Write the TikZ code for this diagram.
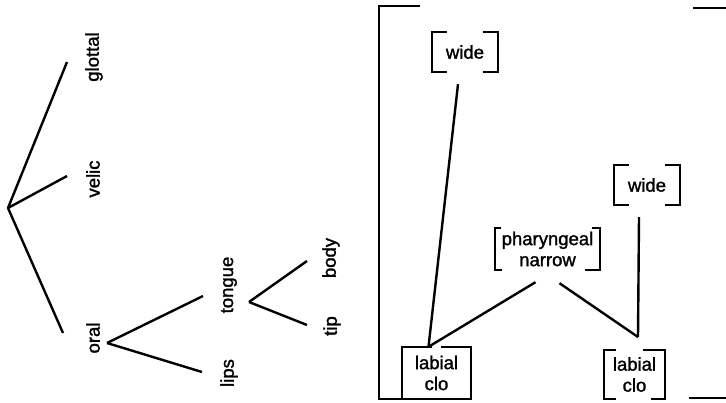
\documentclass[tikz,border=0pt]{standalone}
\usepackage{fontspec}
\setmainfont[FakeBold=1.5]{Liberation Sans}
\usetikzlibrary{calc}
\tikzset{
  edge/.style={line width=2.4pt},
  brk/.style={line width=2.1pt},
  lbl/.style={font=\fontsize{18.5}{21}\selectfont, inner sep=0pt, rotate=90},
  featbox/.style={font=\fontsize{18.5}{21}\selectfont, inner sep=0pt, align=center},
}
\newcommand{\brackets}[5]{%
  \draw[brk] ($(#1.north west)+(#2,0)$) -- (#1.north west) -- (#1.south west) -- ($(#1.south west)+(#4,0)$);
  \draw[brk] ($(#1.north east)-(#3,0)$) -- (#1.north east) -- (#1.south east) -- ($(#1.south east)-(#5,0)$);
}
\begin{document}
\begin{tikzpicture}[x=1pt,y=-1pt]
\useasboundingbox (0,0) rectangle (726,402);
% left tree
\coordinate (r1) at (8,208);
\node[lbl] (glottal) at (94,57) {glottal};
\node[lbl] (velic) at (93,179) {velic};
\node[lbl] (oral) at (93,338) {oral};
\coordinate (eg) at (67,62);
\coordinate (ev) at (67,176);
\coordinate (eo) at (63,333);
\draw[edge] (r1) -- (eg);
\draw[edge] (r1) -- (ev);
\draw[edge] (r1) -- (eo);
% oral subtree
\coordinate (r2) at (107,343);
\node[lbl] (tongue) at (229,285) {tongue};
\node[lbl] (lips) at (229,373) {lips};
\coordinate (et) at (203,296);
\coordinate (el) at (202,372);
\draw[edge] (r2) -- (et);
\draw[edge] (r2) -- (el);
% tongue subtree
\coordinate (r3) at (249,302);
\node[lbl] (body) at (331,258) {body};
\node[lbl] (tip) at (332,326) {tip};
\coordinate (eb) at (307,261);
\coordinate (etp) at (307,325);
\draw[edge] (r3) -- (eb);
\draw[edge] (r3) -- (etp);
% big bracket
\draw[brk] (420,6) -- (379,6) -- (379,399) -- (471,399);
\draw[brk] (693,8) -- (726,8);
\draw[brk] (689,398) -- (726,398);
% feature boxes
\node[featbox, minimum width=66pt, minimum height=40pt] (wideA) at (465,52) {wide};
\brackets{wideA}{15}{15}{15}{15}
\node[featbox, minimum width=66pt, minimum height=40pt] (wideB) at (647,185) {wide};
\brackets{wideB}{15}{15}{15}{15}
\node[featbox, minimum width=105pt, minimum height=42pt] (phar) at (547.5,249) {pharyngeal\\narrow};
\brackets{phar}{6}{8}{7}{15}
\node[featbox, minimum width=69pt, minimum height=52pt] (lab1) at (436.5,373) {labial\\clo};
\brackets{lab1}{30}{30}{8}{8}
\node[featbox, minimum width=61pt, minimum height=49pt] (lab2) at (634.5,374.5) {labial\\clo};
\brackets{lab2}{12}{22}{12}{14}
% connectors
\coordinate (j1) at ($(lab1.north)+(-8,0)$);
\coordinate (j2) at (638,337);
\draw[edge] ($(wideA.south)+(-7,12)$) -- (j1);
\draw[edge] ($(phar.south)+(-12,12)$) -- (j1);
\draw[edge] ($(phar.south)+(12,13)$) -- (j2);
\draw[edge] ($(wideB.south)+(-8,12)$) -- (j2);
\end{tikzpicture}
\end{document}
